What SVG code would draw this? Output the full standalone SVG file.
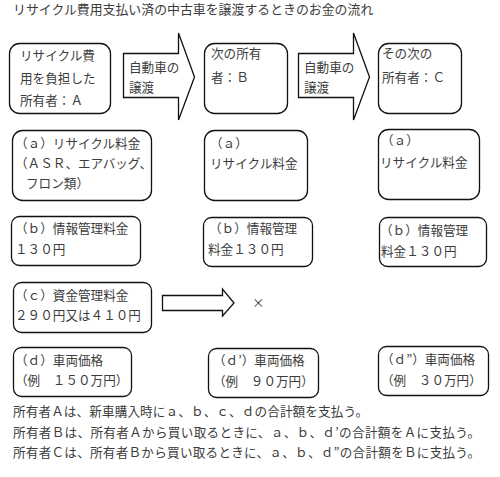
<svg xmlns="http://www.w3.org/2000/svg" width="500" height="477" viewBox="0 0 500 477">
<style>
text{font-family:"Noto Sans CJK JP","Noto Sans CJK SC",sans-serif;font-size:12.6px;fill:#3c3c3c}
.box{fill:#fff;stroke:#111;stroke-width:1.3}
.arr{fill:#fff;stroke:#111;stroke-width:1.3;stroke-linejoin:miter}
</style>
<rect width="500" height="477" fill="#fff"/>
<text id="title" x="13" y="14" style="font-size:12.9px">リサイクル費用支払い済の中古車を譲渡するときのお金の流れ</text>

<g id="ownerA"><rect class="box" x="9.5" y="43.5" width="101" height="70" rx="10"/>
<text x="20" y="60">リサイクル費</text><text x="20" y="83">用を負担した</text><text x="20" y="105">所有者：Ａ</text></g>
<g id="ownerB"><rect class="box" x="204.5" y="43.5" width="83" height="70" rx="10"/>
<text x="211" y="58">次の所有</text><text x="211" y="82">者：Ｂ</text></g>
<g id="ownerC"><rect class="box" x="378.5" y="43.5" width="83" height="70" rx="10"/>
<text x="382" y="58">その次の</text><text x="382" y="82">所有者：Ｃ</text></g>

<g id="a1"><rect class="box" x="12.5" y="130.5" width="139" height="70" rx="10"/>
<text x="15" y="148">（ａ）リサイクル料金</text><text x="15" y="168">（ＡＳＲ、エアバッグ、</text><text x="26" y="188">フロン類）</text></g>
<g id="a2"><rect class="box" x="204.5" y="130.5" width="103" height="70" rx="10"/>
<text x="210" y="148">（ａ）</text><text x="210" y="168">リサイクル料金</text></g>
<g id="a3"><rect class="box" x="378.5" y="129.5" width="101" height="70" rx="10"/>
<text x="381" y="145">（ａ）</text><text x="380" y="167">リサイクル料金</text></g>

<g id="b1"><rect class="box" x="11.5" y="216.5" width="129" height="49" rx="8"/>
<text x="15" y="233">（ｂ）情報管理料金</text><text x="15" y="254">１３０円</text></g>
<g id="b2"><rect class="box" x="203.5" y="217.5" width="109" height="49" rx="8"/>
<text x="209" y="233">（ｂ）情報管理</text><text x="208" y="254">料金１３０円</text></g>
<g id="b3"><rect class="box" x="379.5" y="217.5" width="107" height="49" rx="8"/>
<text x="380" y="235">（ｂ）情報管理</text><text x="381" y="256">料金１３０円</text></g>

<g id="c1"><rect class="box" x="13.5" y="282.5" width="138" height="50" rx="8"/>
<text x="15" y="300">（ｃ）資金管理料金</text><text x="15" y="320">２９０円又は４１０円</text></g>

<g id="d1"><rect class="box" x="13.5" y="347.5" width="118" height="49" rx="8"/>
<text x="15" y="365">（ｄ）車両価格</text><text x="15" y="385">（例　１５０万円）</text></g>
<g id="d2"><rect class="box" x="208.5" y="348.5" width="110" height="49" rx="8"/>
<text x="213" y="365">（ｄ’）車両価格</text><text x="213" y="386">（例　９０万円）</text></g>
<g id="d3"><rect class="box" x="378.5" y="346.5" width="110" height="49" rx="8"/>
<text x="381" y="364">（ｄ”）車両価格</text><text x="381" y="385">（例　３０万円）</text></g>

<g id="connectors">
<g id="arrow1"><polygon class="arr" points="123.5,53.5 178.5,53.5 178.5,33 194.5,77 178.5,120 178.5,97.5 123.5,97.5"/>
<text x="129" y="72">自動車の</text><text x="129" y="92">譲渡</text></g>
<g id="arrow2"><polygon class="arr" points="298.5,53.5 353.5,53.5 353.5,33 369.5,77 353.5,120 353.5,97.5 298.5,97.5"/>
<text x="304" y="72">自動車の</text><text x="304" y="92">譲渡</text></g>
<g id="arrow3"><polygon class="arr" points="162.5,295.5 222.5,295.5 222.5,289 234,303 222.5,316 222.5,310.5 162.5,310.5"/></g>
</g>
<text id="cross" x="252" y="307">×</text>

<g id="notes">
<text x="13" y="416" textLength="355" lengthAdjust="spacing">所有者Ａは、新車購入時にａ、ｂ、ｃ、ｄの合計額を支払う。</text>
<text x="13" y="437" textLength="467" lengthAdjust="spacing">所有者Ｂは、所有者Ａから買い取るときに、ａ、ｂ、ｄ’の合計額をＡに支払う。</text>
<text x="13" y="457" textLength="467" lengthAdjust="spacing">所有者Ｃは、所有者Ｂから買い取るときに、ａ、ｂ、ｄ”の合計額をＢに支払う。</text>
</g>
</svg>
